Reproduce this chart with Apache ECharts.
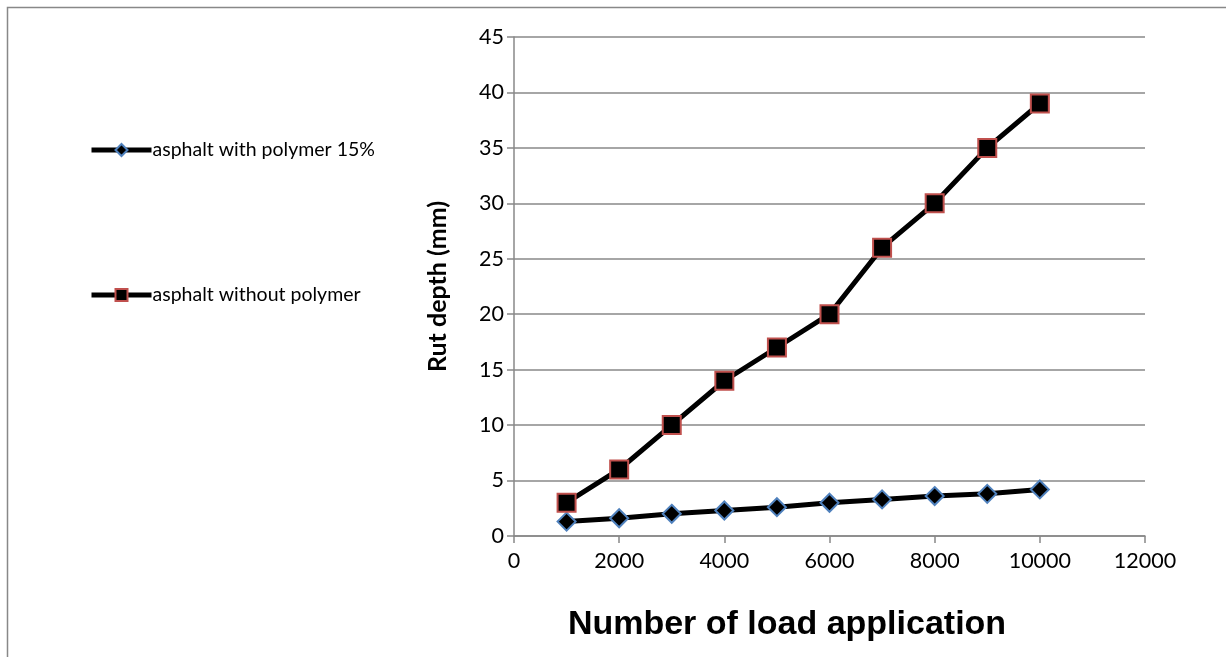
<!DOCTYPE html>
<html><head><meta charset="utf-8">
<script src="https://cdn.jsdelivr.net/npm/echarts@6/dist/echarts.min.js"></script>
<style>html,body{margin:0;padding:0;background:#fff}#c{width:1226px;height:657px}</style>
</head><body><div id="c"></div>
<script>
const loads = [1000, 2000, 3000, 4000, 5000, 6000, 7000, 8000, 9000, 10000];
const withPolymer = [1.3, 1.6, 2.0, 2.3, 2.6, 3.0, 3.3, 3.6, 3.8, 4.2];
const withoutPolymer = [3, 6, 10, 14, 17, 20, 26, 30, 35, 39];
const seriesNames = ['asphalt with polymer 15%', 'asphalt without polymer'];

const chart = echarts.init(document.getElementById('c'));
const pair = (xs, ys) => xs.map((x, i) => [x, ys[i]]);
const tickFont = {fontFamily: 'Lato, "Open Sans", sans-serif', fontSize: 21.5, color: '#000'};
const legendCommon = {left: 84, orient: 'vertical', itemWidth: 60, itemHeight: 15,
  lineStyle: {width: 5, color: '#000'},
  textStyle: {fontFamily: 'Lato, "Open Sans", sans-serif', fontSize: 19.5, color: '#000', padding: [0,0,0,-4]}};
chart.setOption({
  animation: false,
  graphic: [{type: 'rect', shape: {x: 7.5, y: 7.5, width: 1240, height: 700}, style: {fill: 'none', stroke: '#888', lineWidth: 1.5}, silent: true}],
  grid: {left: 514, right: 81, top: 37, bottom: 121},
  legend: [
    Object.assign({data: [seriesNames[0]], top: 135}, legendCommon),
    Object.assign({data: [seriesNames[1]], top: 280}, legendCommon)
  ],
  xAxis: {
    type: 'value', min: 0, max: 12000, interval: 2000,
    name: 'Number of load application', nameLocation: 'middle', nameGap: 72,
    nameTextStyle: {fontFamily: '"Liberation Sans", Arial, sans-serif', fontWeight: 'bold', fontSize: 34, color: '#000', padding: [0, 85, 0, 0]},
    axisLine: {show: true, lineStyle: {color: '#888', width: 1.5}},
    axisTick: {show: true, length: 7, lineStyle: {color: '#888', width: 1.5}},
    axisLabel: Object.assign({margin: 14, formatter: v => String(v)}, tickFont),
    splitLine: {show: false}
  },
  yAxis: {
    type: 'value', min: 0, max: 45, interval: 5,
    name: 'Rut depth (mm)', nameLocation: 'middle', nameGap: 64, nameRotate: 90,
    nameTextStyle: {fontFamily: 'Lato, "Open Sans", sans-serif', fontWeight: 'bold', fontSize: 25, color: '#000'},
    axisLine: {show: true, lineStyle: {color: '#888', width: 1.5}},
    axisTick: {show: true, length: 7, lineStyle: {color: '#888', width: 1.5}},
    axisLabel: Object.assign({margin: 10}, tickFont),
    splitLine: {show: true, lineStyle: {color: '#888', width: 1.5}}
  },
  series: [
    {name: seriesNames[0], type: 'line', data: pair(loads, withPolymer),
     symbol: 'diamond', symbolSize: 18,
     lineStyle: {color: '#000', width: 5},
     itemStyle: {color: '#000', borderColor: '#4f81bd', borderWidth: 2}},
    {name: seriesNames[1], type: 'line', data: pair(loads, withoutPolymer),
     symbol: 'rect', symbolSize: 18,
     lineStyle: {color: '#000', width: 5},
     itemStyle: {color: '#000', borderColor: '#c0504d', borderWidth: 2}}
  ]
});
</script></body></html>
